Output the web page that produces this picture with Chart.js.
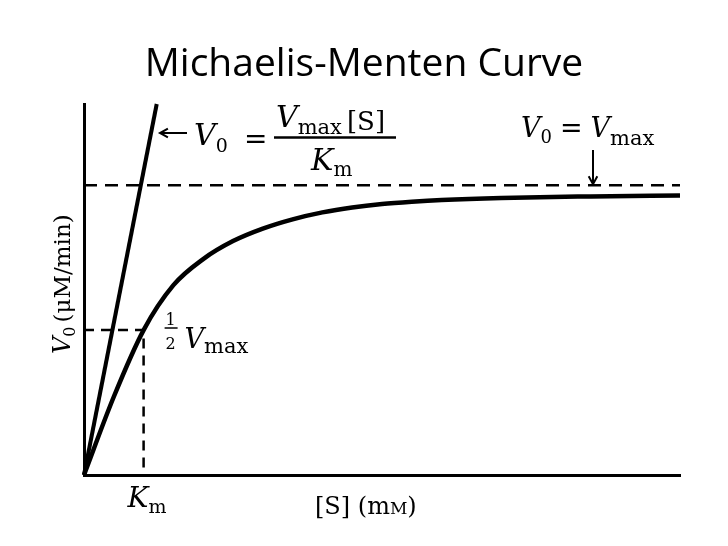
<!DOCTYPE html>
<html>
<head>
<meta charset="utf-8">
<script src="https://cdn.jsdelivr.net/npm/chart.js@4.4.1/dist/chart.umd.min.js"></script>
<style>
  html, body { margin: 0; padding: 0; background: #fff; }
  #wrap { width: 728px; height: 546px; position: relative; }
</style>
</head>
<body>
<div id="wrap"><canvas id="mmChart"></canvas></div>
<script>
// Data (S in units of Km, V0 in % of Vmax)
const curveS = [0, 0.5, 1.0, 1.5, 2.0, 2.5, 3.0, 3.5, 4.0, 4.5, 5.0, 5.5, 6.0, 7.0, 8.5, 10];
const curveV = [0, 27, 50, 65.5, 74.5, 80.7, 85.0, 88.2, 90.6, 92.3, 93.5, 94.3, 94.9, 95.6, 96.1, 96.4];
const initialS = [0, 1.22];
const initialV = [0, 128];
const vmaxS = [0, 10];
const vmaxV = [100, 100];
const halfS = [0, 1, 1];
const halfV = [50, 50, 0];

const toPts = (xs, ys) => xs.map((x, i) => ({ x: x, y: ys[i] }));

const serif = '"DejaVu Serif", "Liberation Serif", serif';

// draws a row of text pieces one after another
function run(ctx, x, y, parts) {
  parts.forEach(p => {
    ctx.font = p.f;
    ctx.fillText(p.t, x, y + (p.dy || 0));
    x += ctx.measureText(p.t).width + (p.gap || 0);
  });
  return x;
}

function arrow(ctx, x1, y1, x2, y2) {
  const a = Math.atan2(y2 - y1, x2 - x1);
  ctx.beginPath();
  ctx.moveTo(x1, y1);
  ctx.lineTo(x2, y2);
  ctx.moveTo(x2 - 9 * Math.cos(a - 0.5), y2 - 9 * Math.sin(a - 0.5));
  ctx.lineTo(x2, y2);
  ctx.lineTo(x2 - 9 * Math.cos(a + 0.5), y2 - 9 * Math.sin(a + 0.5));
  ctx.stroke();
}

const labels = {
  id: 'labels',
  afterDraw(chart) {
    const ctx = chart.ctx;
    const xs = chart.scales.x, ys = chart.scales.y;
    ctx.save();
    ctx.fillStyle = '#000';
    ctx.strokeStyle = '#000';
    ctx.textBaseline = 'alphabetic';
    ctx.textAlign = 'left';

    // title
    ctx.font = '39px "Open Sans", sans-serif';
    ctx.textAlign = 'center';
    ctx.fillText('Michaelis-Menten Curve', 364, 76);
    ctx.textAlign = 'left';

    // V0 = Vmax[S]/Km next to the initial slope line
    ctx.lineWidth = 2;
    arrow(ctx, 187, 133, 160, 133);
    run(ctx, 194, 145, [
      { t: 'V', f: 'italic 30px ' + serif },
      { t: '0', f: '19px ' + serif, dy: 7 }
    ]);
    run(ctx, 244, 148, [{ t: '=', f: '28px ' + serif }]);
    run(ctx, 276, 127, [
      { t: 'V', f: 'italic 30px ' + serif },
      { t: 'max', f: '21px ' + serif, dy: 7, gap: 5 },
      { t: '[S]', f: '26px ' + serif, dy: 3 }
    ]);
    ctx.lineWidth = 2.5;
    ctx.beginPath();
    ctx.moveTo(274, 137.5);
    ctx.lineTo(396, 137.5);
    ctx.stroke();
    run(ctx, 311, 170, [
      { t: 'K', f: 'italic 30px ' + serif },
      { t: 'm', f: '20px ' + serif, dy: 6 }
    ]);

    // V0 = Vmax with arrow to the dashed line
    run(ctx, 521, 137, [
      { t: 'V', f: 'italic 27px ' + serif },
      { t: '0', f: '18px ' + serif, dy: 6, gap: 8 },
      { t: '=', f: '27px ' + serif, gap: 8 },
      { t: 'V', f: 'italic 27px ' + serif },
      { t: 'max', f: '21px ' + serif, dy: 8 }
    ]);
    ctx.lineWidth = 2;
    arrow(ctx, 593, 150, 593, ys.getPixelForValue(100) - 1);

    // 1/2 Vmax
    const hx = xs.getPixelForValue(1) + 21;
    ctx.font = '16px ' + serif;
    ctx.fillText('1', hx + 1, 325);
    ctx.fillText('2', hx + 1, 349);
    ctx.lineWidth = 1.5;
    ctx.beginPath();
    ctx.moveTo(hx, 328);
    ctx.lineTo(hx + 13, 328);
    ctx.stroke();
    run(ctx, hx + 20, 348, [
      { t: 'V', f: 'italic 27px ' + serif },
      { t: 'max', f: '21px ' + serif, dy: 5 }
    ]);

    // Km under the axis
    run(ctx, xs.getPixelForValue(1) - 16, 507, [
      { t: 'K', f: 'italic 28px ' + serif },
      { t: 'm', f: '19px ' + serif, dy: 6 }
    ]);

    // x axis title
    run(ctx, 315, 514, [
      { t: '[S] (m', f: '24px ' + serif },
      { t: 'M', f: '17px ' + serif },
      { t: ')', f: '24px ' + serif }
    ]);

    // y axis title
    ctx.translate(70, 354);
    ctx.rotate(-Math.PI / 2);
    run(ctx, 0, 0, [
      { t: 'V', f: 'italic 24px ' + serif },
      { t: '0', f: '16px ' + serif, dy: 5, gap: 4 },
      { t: '(\u03BCM/min)', f: '23px ' + serif }
    ]);
    ctx.restore();
  }
};

const solid = { borderColor: '#000', pointRadius: 0, fill: false, clip: false };
const dashed = { borderColor: '#000', pointRadius: 0, fill: false, clip: false, borderWidth: 2.5, tension: 0 };

new Chart(document.getElementById('mmChart'), {
  type: 'line',
  data: {
    datasets: [
      Object.assign({ data: toPts(vmaxS, vmaxV), borderDash: [13, 8] }, dashed),
      Object.assign({ data: toPts(halfS, halfV), borderDash: [10, 7] }, dashed),
      Object.assign({ data: toPts(initialS, initialV), borderWidth: 4, tension: 0 }, solid),
      Object.assign({ data: toPts(curveS, curveV), borderWidth: 4.5, cubicInterpolationMode: 'monotone' }, solid)
    ]
  },
  options: {
    responsive: true,
    maintainAspectRatio: false,
    animation: false,
    layout: { padding: { left: 84, top: 104, right: 48, bottom: 71 } },
    plugins: { legend: { display: false }, tooltip: { enabled: false }, title: { display: false } },
    scales: {
      x: {
        type: 'linear', min: 0, max: 10,
        grid: { display: false },
        ticks: { display: false },
        border: { display: true, color: '#000', width: 3 },
        afterFit: s => { s.height = 0; }
      },
      y: {
        type: 'linear', min: 0, max: 128,
        grid: { display: false },
        ticks: { display: false },
        border: { display: true, color: '#000', width: 3 },
        afterFit: s => { s.width = 0; }
      }
    }
  },
  plugins: [labels]
});
</script>
</body>
</html>
